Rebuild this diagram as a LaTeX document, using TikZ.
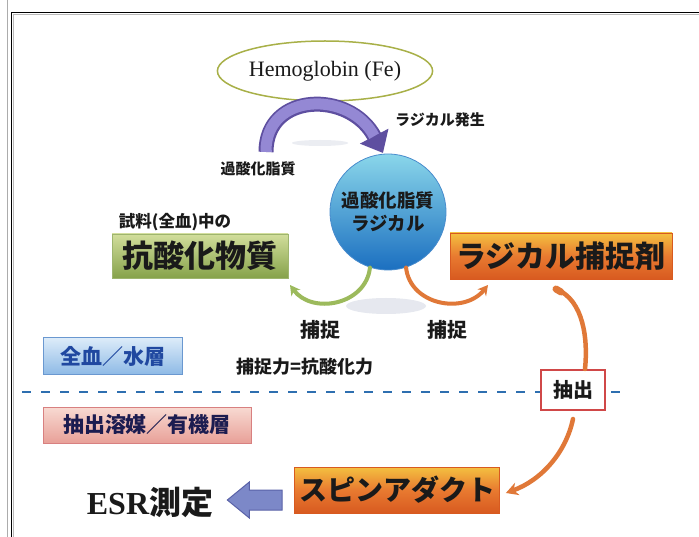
\documentclass[tikz,border=0pt]{standalone}
\usepackage{fontspec}
\setmainfont{Liberation Serif}
\newfontfamily\jp{Noto Sans CJK JP}
\usetikzlibrary{arrows.meta,shapes.geometric,calc}
\definecolor{ellcol}{HTML}{A8B048}
\definecolor{purp}{HTML}{9488D4}
\definecolor{purpd}{HTML}{5E4FA0}
\definecolor{ctop}{HTML}{8AD6EA}
\definecolor{cbot}{HTML}{1B6FC0}
\definecolor{gtop}{HTML}{D2DE9C}
\definecolor{gbot}{HTML}{86A24A}
\definecolor{otop}{HTML}{F4C040}
\definecolor{omid}{HTML}{E87A30}
\definecolor{obot}{HTML}{D85A20}
\definecolor{btop}{HTML}{DDECF9}
\definecolor{bbot}{HTML}{8EBAE6}
\definecolor{bedge}{HTML}{6A98D0}
\definecolor{btext}{HTML}{2048A0}
\definecolor{ptop}{HTML}{F8DAD2}
\definecolor{pbot}{HTML}{E8A098}
\definecolor{pedge}{HTML}{D88080}
\definecolor{ptext}{HTML}{1C1C50}
\definecolor{exred}{HTML}{D04848}
\definecolor{dashc}{HTML}{2E6FB0}
\definecolor{garc}{HTML}{9CBA5C}
\definecolor{oarc}{HTML}{E07838}
\definecolor{barrow}{HTML}{7C88C8}
\definecolor{barrowd}{HTML}{5A62A8}
\definecolor{ink}{HTML}{1A1A1A}
\definecolor{smudge}{HTML}{C8CEDC}
\tikzset{
  lbl/.style={text=ink, inner sep=0pt, font=\jp\bfseries\fontsize{15}{15}\selectfont},
  bigjp/.style={text=ink, inner sep=0pt, font=\jp\bfseries\fontsize{#1}{#1}\selectfont},
  greenbox/.style={draw=gbot!80, line width=0.8, top color=gtop, bottom color=gbot, minimum width=176, minimum height=44},
  orangebox/.style={draw=obot, line width=0.8, top color=otop, bottom color=obot, middle color=omid},
  bluebox/.style={draw=bedge, line width=1, top color=btop, bottom color=bbot, minimum width=139, minimum height=37},
  pinkbox/.style={draw=pedge, line width=1, top color=ptop, bottom color=pbot, minimum width=208, minimum height=36},
  thinarc/.style={line width=4, line cap=round, -{Stealth[length=10,width=11]}},
  thickarc/.style={oarc, line width=4.5, line cap=round}
}
\begin{document}
\begin{tikzpicture}[x=1pt,y=-1pt]
\useasboundingbox (0,0) rectangle (699,537);
\fill[white] (0,0) rectangle (699,537);
% frame
\draw[gray!65, line width=1.6] (7.5,0) -- (7.5,537);
\draw[black, line width=1.6] (11.5,537) -- (11.5,12.5) -- (699,12.5);
\draw[gray!55, line width=0.8] (13,537) -- (13,14.2) -- (699,14.2);

% shadow smudges
\fill[smudge, opacity=0.45] (386,306) ellipse [x radius=40, y radius=8];
\fill[smudge, opacity=0.35] (320,143) ellipse [x radius=28, y radius=3];

% hemoglobin
\node[ellipse, draw=ellcol, line width=1.5, fill=white, minimum width=206, minimum height=60, inner sep=0pt,
      font=\fontsize{22}{22}\selectfont, text=ink] (hb) at (325,71) {Hemoglobin (Fe)};

% radical circle
\node[circle, draw=cbot!80, line width=0.8, top color=ctop, bottom color=cbot, minimum size=116, inner sep=0pt,
      align=center, text=ink, font=\jp\bfseries\fontsize{18.5}{23}\selectfont] (rad) at (388,212) {過酸化脂質\\ラジカル};

% purple arrow from hemoglobin to radical
\coordinate (ptail) at (266,152);
\coordinate (ptip) at (383,153);
\draw[purpd, line width=15, -{Triangle[length=19,width=31]}] (ptail) .. controls (266,92) and (350,90) .. (ptip);
\draw[purp, line width=11, shorten >=19] (ptail) ++(0,-1) .. controls (266,92) and (350,90) .. (ptip);
\fill[purp] (ptail) ++(-5.5,-2) rectangle ++(11,2);

\node[lbl] (gen) at (440,120) {ラジカル発生};
\node[lbl] (lipid) at (258,169) {過酸化脂質};

% antioxidant
\node[lbl, font=\jp\bfseries\fontsize{16.5}{16.5}\selectfont] (sample) at (175,222) {試料(全血)中の};
\node[greenbox, bigjp=31] (anti) at (200,256) {抗酸化物質};

% scavenger
\node[orangebox, bigjp=30, minimum width=222, minimum height=46] (scav) at (561,256) {ラジカル捕捉剤};

% capture arcs
\coordinate (gend) at (290,285);
\coordinate (oend) at (488,285);
\draw[thinarc, garc] (rad.252) .. controls (366,305) and (312,315) .. (gend);
\draw[thinarc, oarc] (rad.288) .. controls (410,305) and (464,315) .. (oend);
\node[bigjp=20] (cap1) at (320,330) {捕捉};
\node[bigjp=20] (cap2) at (447,330) {捕捉};
\node[bigjp=18] (capf) at (305,367) {捕捉力=抗酸化力};

% layers
\node[bluebox, text=btext, inner sep=0pt, font=\jp\bfseries\fontsize{21}{21}\selectfont] (water) at (113,356) {全血／水層};
\draw[dashc, line width=2.8, dash pattern=on 9 off 10] (22,392) -- (625,392);
\node[pinkbox, text=ptext, inner sep=0pt, font=\jp\bfseries\fontsize{21}{21}\selectfont] (org) at (147,425) {抽出溶媒／有機層};

% extraction
\node[draw=exred, line width=2, fill=white, minimum width=64, minimum height=40, bigjp=20] (ext) at (573,390) {抽出};

% spin adduct and ESR
\node[orangebox, bigjp=28, minimum width=205, minimum height=46] (spin) at (397,490) {スピンアダクト};
\node[inner sep=0pt, text=ink, font=\bfseries\fontsize{32}{32}\selectfont] (esr) at (150,502) {ESR{\jp 測定}};

% thick orange connectors
\coordinate (sstart) at (556,289);
\draw[thickarc] (sstart) .. controls (584,300) and (588,340) .. ($(ext.north)+(12,0)$);
\draw[oarc, line width=7, line cap=round] (sstart) -- ++(5,3);
\draw[thickarc, -{Stealth[length=12,width=13]}] ($(ext.south)+(0,8)$) .. controls (566,452) and (542,480) .. ($(spin.east)+(6,3)$);

% block arrow spin -> ESR
\coordinate (bt) at ($(spin.west)+(-12,10)$);
\coordinate (bh) at ($(esr.east)+(14,-2)$);
\draw[barrowd, line width=1, fill=barrow] (bt) ++(0,-10) -- ($(bh)+(22,-10)$) -- ($(bh)+(22,-18)$) -- (bh) -- ($(bh)+(22,18)$) -- ($(bh)+(22,10)$) -- ($(bt)+(0,10)$) -- cycle;
\end{tikzpicture}
\end{document}
